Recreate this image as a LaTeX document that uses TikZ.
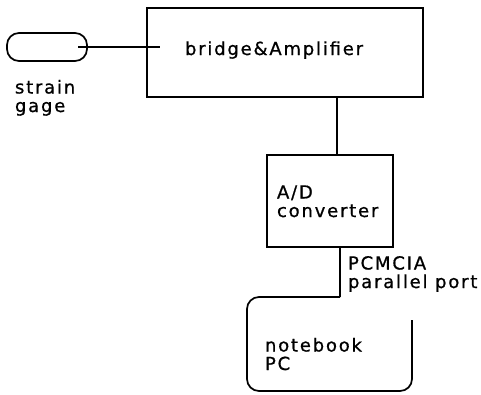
\documentclass[tikz,border=0pt]{standalone}
\usepackage{fontspec}
\setmainfont{DejaVu Sans}[LetterSpace=10, FakeBold=0.8]
\begin{document}
\begin{tikzpicture}[x=1pt, y=-1pt,
  line/.style={line width=1.7pt},
  frame/.style={draw, line width=1.7pt, inner sep=0pt, outer sep=0pt},
  lbl/.style={inner sep=0pt, outer sep=0pt, anchor=base west, align=left,
              font=\fontsize{18}{18.5}\selectfont}]
  \useasboundingbox (0,0) rectangle (481,394);

  % blocks
  \node[frame, rounded corners=12pt, minimum width=80pt, minimum height=28pt,
        anchor=north west] (gage) at (7,33) {};
  \node[frame, minimum width=276pt, minimum height=89pt, anchor=north west] (amp) at (147,8) {};
  \node[frame, minimum width=126pt, minimum height=92pt, anchor=north west] (adc) at (267,155) {};
  \node[inner sep=0pt, outer sep=0pt, minimum width=165pt, minimum height=94pt,
        anchor=north west] (pc) at (247,297) {};

  % texts (a two-line label is placed by the baseline of its last line)
  \node[lbl] (ampt) at (185,55) {bridge\&Amplifier};
  \node[lbl] (gaget) at (15,112) {strain\\gage};
  \node[lbl] (adct) at (277,217) {A/D\\converter};
  \node[lbl] (portt) at (348,288) {PCMCIA\\parallel port};
  \node[lbl] (pct) at (265,370) {notebook\\PC};

  % connectors
  \coordinate (port) at ([xshift=10pt]adc.south |- pc.north);
  \draw[line] ([xshift=-9pt]gage.east) -- ([xshift=13pt]amp.west |- gage.east);
  \draw[line] ([xshift=7pt]adc.north) -- ([xshift=7pt]adc.north |- amp.south);
  \draw[line] ([xshift=10pt]adc.south) -- (port);

  % notebook outline, open at the upper right
  \draw[line, rounded corners=12pt] (port) -- (pc.north west) -- (pc.south west)
    -- (pc.south east) -- ([yshift=-23pt]pc.north east);
\end{tikzpicture}
\end{document}
